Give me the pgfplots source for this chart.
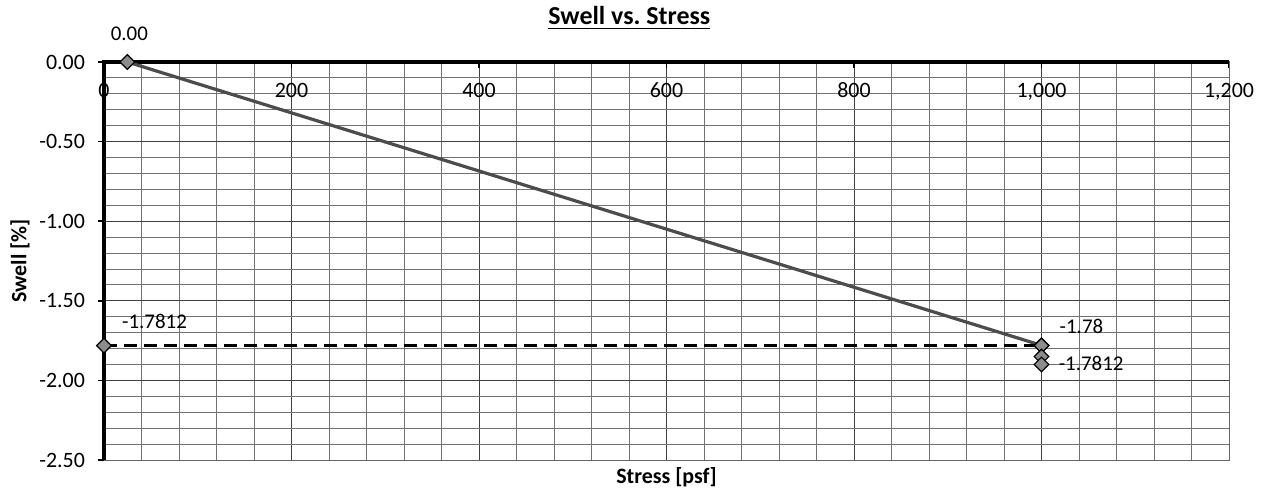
\documentclass[border=0pt]{standalone}
\usepackage{fontspec}
\setmainfont{Carlito}
\usepackage{pgfplots}
\pgfplotsset{compat=1.18}
\frenchspacing
\begin{document}
\begin{tikzpicture}
\useasboundingbox (0,0) rectangle (632.5bp,244.5bp);
\begin{axis}[
  at={(52bp,14.5bp)}, anchor=south west,
  scale only axis, width=562.5bp, height=199bp,
  xmin=0, xmax=1200, ymin=-2.5, ymax=0,
  xtick={0,200,400,600,800,1000,1200},
  ytick={-2.5,-2,-1.5,-1,-0.5,0},
  minor x tick num=4, minor y tick num=4,
  grid=both,
  major grid style={black!75, line width=0.5bp},
  minor grid style={black!55, line width=0.45bp},
  axis line style={black!60, line width=0.5bp},
  xtick pos=upper, xticklabel pos=upper, xtick align=inside,
  ytick pos=left, ytick align=outside,
  minor tick length=0pt, major tick length=3bp,
  tick style={black, line width=0.8bp},
  /pgf/number format/assume math mode=true,
  tick label style={font=\fontsize{11}{13}\selectfont},
  xticklabel style={anchor=north, yshift=-7bp, text height=7bp, text depth=0pt},
  yticklabel style={xshift=-3bp, /pgf/number format/.cd, fixed, fixed zerofill, precision=2},
  scaled y ticks=false,
  clip=false,
  every axis title shift=0pt,
  title={\underline{\textbf{Swell vs. Stress}}},
  title style={at={(0.467,1)}, anchor=center, yshift=22bp, font=\fontsize{13}{15}\selectfont},
  xlabel={\textbf{Stress [psf]}},
  xlabel style={at={(0.5,0)}, anchor=center, yshift=-8.5bp, font=\fontsize{11}{13}\selectfont},
]
\draw[black, line width=1.8bp] (axis cs:0,-2.5) -- (axis cs:0,0) -- (axis cs:1200,0);
\addplot[black!70, line width=1.6bp, mark=square*, mark size=2.6bp,
  mark options={rotate=45, fill=black!45, draw=black, line width=0.6bp, solid}]
  coordinates {(25,0) (1000,-1.78)};
\addplot[black, line width=1.5bp, dash pattern=on 6.5bp off 3.5bp, mark=square*, mark size=2.6bp,
  mark options={rotate=45, fill=black!45, draw=black, line width=0.6bp, solid}]
  coordinates {(0,-1.7812) (1000,-1.7812)};
\addplot[only marks, mark=square*, mark size=2.6bp,
  mark options={rotate=45, fill=black!45, draw=black, line width=0.6bp, solid}]
  coordinates {(1000,-1.85) (1000,-1.90)};
\node[font=\fontsize{10.5}{12}\selectfont, inner sep=0pt] at (axis cs:27,0.18) {0.00};
\node[font=\fontsize{10.5}{12}\selectfont, inner sep=0pt, anchor=west] at (axis cs:19,-1.631) {-1.7812};
\node[font=\fontsize{10.5}{12}\selectfont, inner sep=0pt, anchor=west] at (axis cs:1019,-1.663) {-1.78};
\node[font=\fontsize{10.5}{12}\selectfont, inner sep=0pt, anchor=west] at (axis cs:1018,-1.895) {-1.7812};
\node[rotate=90, font=\fontsize{11}{13}\selectfont\bfseries] at ([xshift=-42bp]rel axis cs:0,0.5) {Swell [\%]};
\end{axis}
\end{tikzpicture}
\end{document}
